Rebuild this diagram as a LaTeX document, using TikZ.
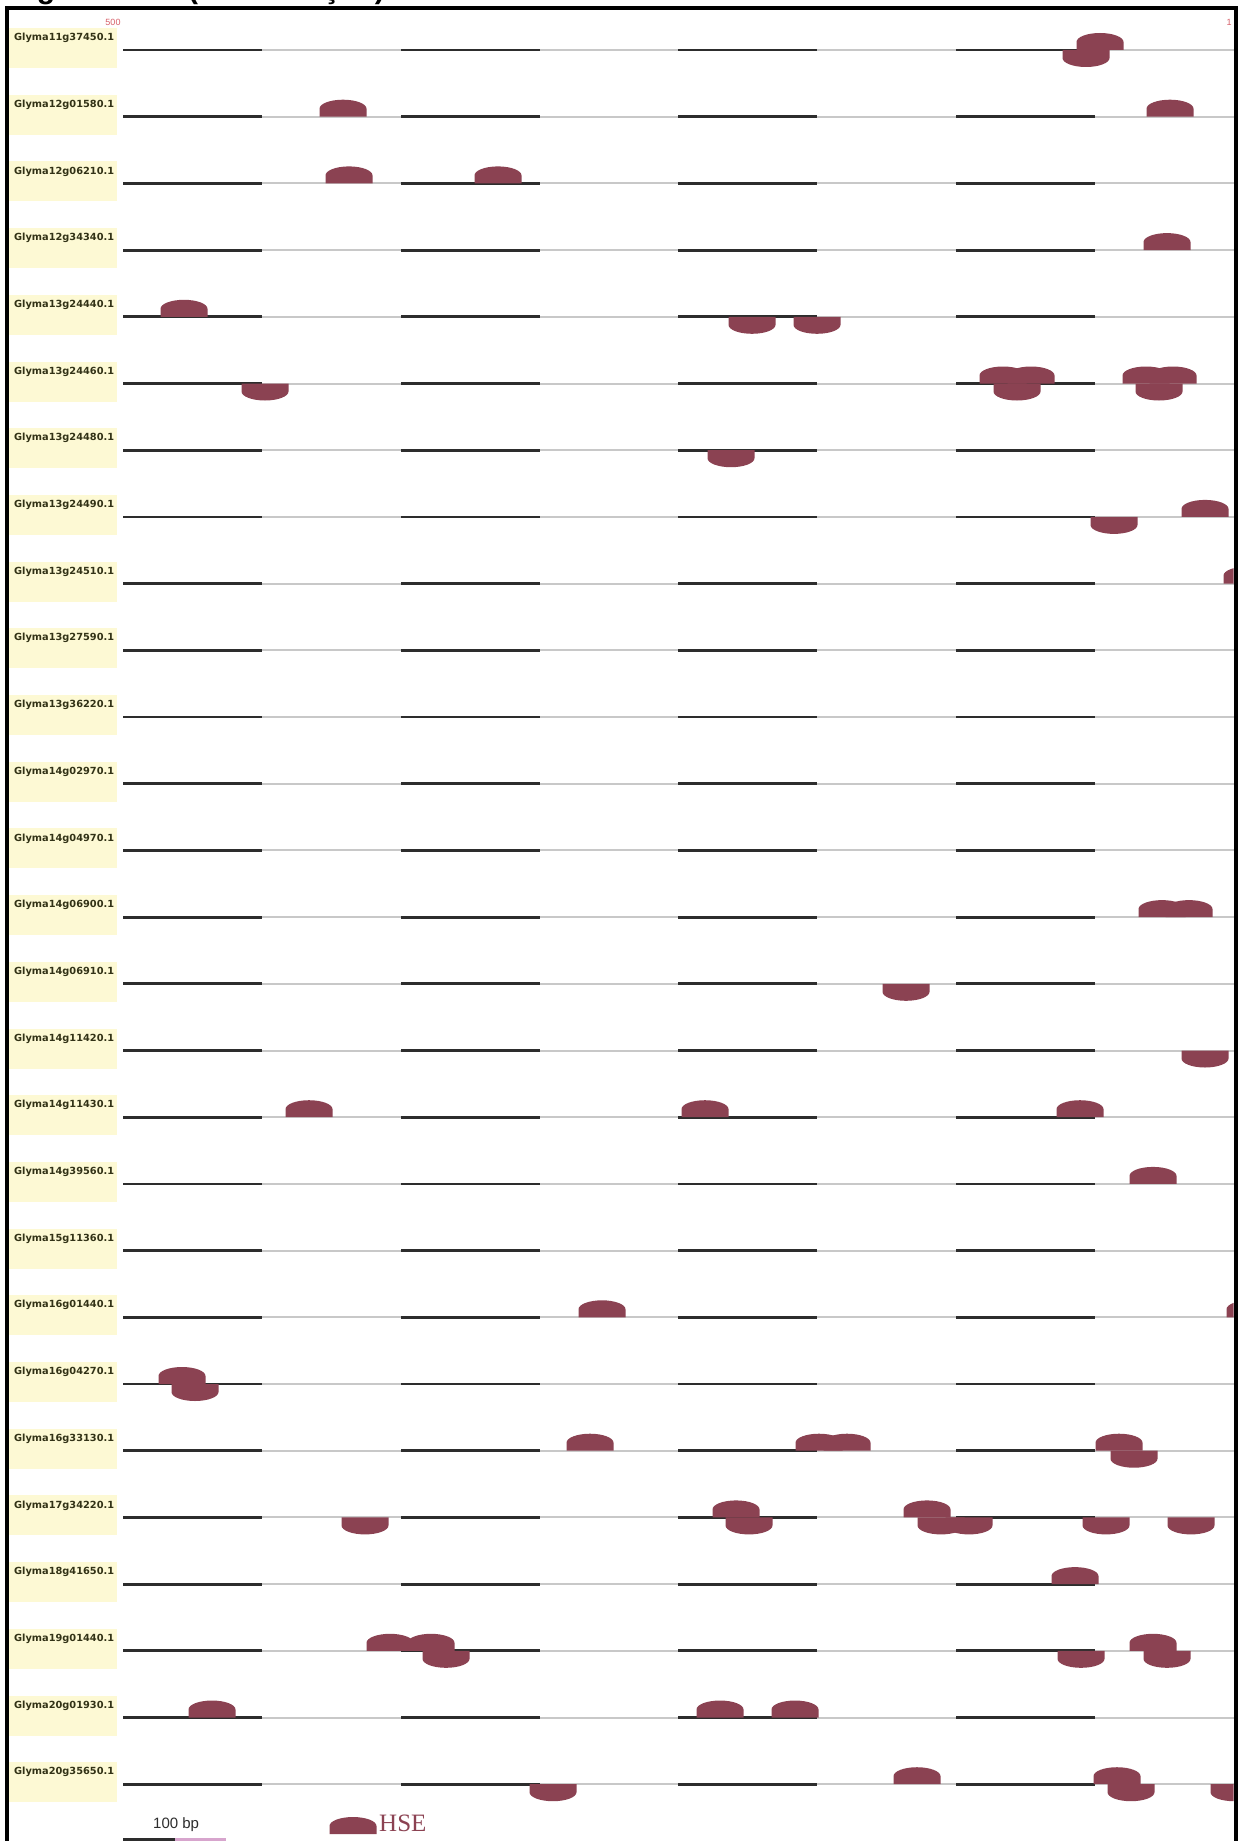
\documentclass[tikz,border=0pt]{standalone}
\usepackage{fontspec}
\setmainfont{Liberation Sans}
\newfontfamily\labelfont{DejaVu Sans}
\newfontfamily\seriffont{Liberation Serif}
\definecolor{hsecol}{RGB}{139,66,82}
\definecolor{labelbg}{RGB}{253,249,212}
\definecolor{labeltext}{RGB}{50,50,22}
\definecolor{darkseg}{RGB}{45,45,45}
\definecolor{lightseg}{RGB}{200,200,200}
\definecolor{coordred}{RGB}{215,95,105}
\definecolor{scalepink}{RGB}{215,165,205}
\newcommand\hsemark[3]{%
  \fill[hse] ({#1-23.5},#2) -- ++(0,{8*#3})
    arc[start angle=180,end angle={180-180*#3},x radius=23.5,y radius=9]
    -- ++(0,{-8*#3}) -- cycle;}
\begin{document}
\begin{tikzpicture}[x=1pt,y=-1pt,
  hse/.style={fill=hsecol},
  lbl/.style={font=\labelfont\bfseries\fontsize{9.8}{10}\selectfont,text=labeltext,inner sep=0pt,anchor=west},
  lblbox/.style={fill=labelbg},
  darkline/.style={draw=darkseg,line width=2.8pt},
  lightline/.style={draw=lightseg,line width=2pt},
  coord/.style={font=\fontsize{9}{9}\selectfont,text=coordred,inner sep=0pt},
  frame/.style={draw=black,line width=4.5pt}]
\useasboundingbox (0,0) rectangle (1243,1841);
\fill[white] (0,0) rectangle (1243,1841);
% title (only descenders visible)
\node[anchor=base west,font=\bfseries\fontsize{30}{30}\selectfont,inner sep=0pt] (t1) at (10,-1) {Figura};
\node[anchor=base west,font=\bfseries\fontsize{30}{30}\selectfont,inner sep=0pt] (t2) at (188,-1) {(continuação)};
% rows
\foreach \name [count=\i from 0] in {Glyma11g37450.1,Glyma12g01580.1,Glyma12g06210.1,Glyma12g34340.1,Glyma13g24440.1,Glyma13g24460.1,Glyma13g24480.1,Glyma13g24490.1,Glyma13g24510.1,Glyma13g27590.1,Glyma13g36220.1,Glyma14g02970.1,Glyma14g04970.1,Glyma14g06900.1,Glyma14g06910.1,Glyma14g11420.1,Glyma14g11430.1,Glyma14g39560.1,Glyma15g11360.1,Glyma16g01440.1,Glyma16g04270.1,Glyma16g33130.1,Glyma17g34220.1,Glyma18g41650.1,Glyma19g01440.1,Glyma20g01930.1,Glyma20g35650.1}{
  \pgfmathsetmacro\ly{50+66.7*\i}
  \fill[lblbox] (9,\ly-22) rectangle (117,\ly+18);
  \node[lbl] (lab\i) at (14,\ly-12) {\name};
  \draw[lightline] (123,\ly) -- (1234,\ly);
  \foreach \sx/\ex in {123/262,401/540,678/817,956/1095}
    \draw[darkline] (\sx,\ly) -- (\ex,\ly);
}
\node[coord] (c500) at (113,22) {500};
\node[coord] (c1) at (1229,22) {1};
% HSE sites
\begin{scope}
\clip (9,12) rectangle (1233.5,1841);
\foreach \r/\mx/\d in {0/1086/1,0/1100/-1,
  1/343/-1,1/1170/-1,
  2/349/-1,2/498/-1,
  3/1167/-1,
  4/184/-1,4/752/1,4/817/1,
  5/265/1,5/1017/1,5/1003/-1,5/1031/-1,5/1159/1,5/1146/-1,5/1173/-1,
  6/731/1,
  7/1114/1,7/1205/-1,
  8/1247/-1,
  13/1162/-1,13/1189/-1,
  14/906/1,
  15/1205/1,
  16/309/-1,16/705/-1,16/1080/-1,
  17/1153/-1,
  19/602/-1,19/1250/-1,
  20/182/-1,20/195/1,
  21/590/-1,21/819/-1,21/847/-1,21/1119/-1,21/1134/1,
  22/365/1,22/736/-1,22/749/1,22/927/-1,22/941/1,22/969/1,22/1106/1,22/1191/1,
  23/1075/-1,
  24/390/-1,24/431/-1,24/446/1,24/1081/1,24/1153/-1,24/1167/1,
  25/212/-1,25/720/-1,25/795/-1,
  26/553/1,26/917/-1,26/1117/-1,26/1131/1,26/1234/1}{
  \pgfmathsetmacro\ly{50+66.7*\r}
  \hsemark{\mx}{\ly}{\d}
}
\end{scope}
% legend
\draw[line width=3pt,draw=darkseg] (123,1839) -- (175,1839);
\draw[line width=3pt,draw=scalepink] (175,1839) -- (226,1839);
\node[anchor=base west,font=\fontsize{15}{15}\selectfont,text=darkseg,inner sep=0pt] (scale) at (153,1828) {100 bp};
\hsemark{353}{1834}{-1}
\node[anchor=base west,font=\seriffont\fontsize{25}{25}\selectfont,text=hsecol,inner sep=0pt] (hselab) at (379,1831) {HSE};
% frame
\draw[frame] (7,1860) -- (7,8) -- (1236,8) -- (1236,1860);
\end{tikzpicture}
\end{document}
